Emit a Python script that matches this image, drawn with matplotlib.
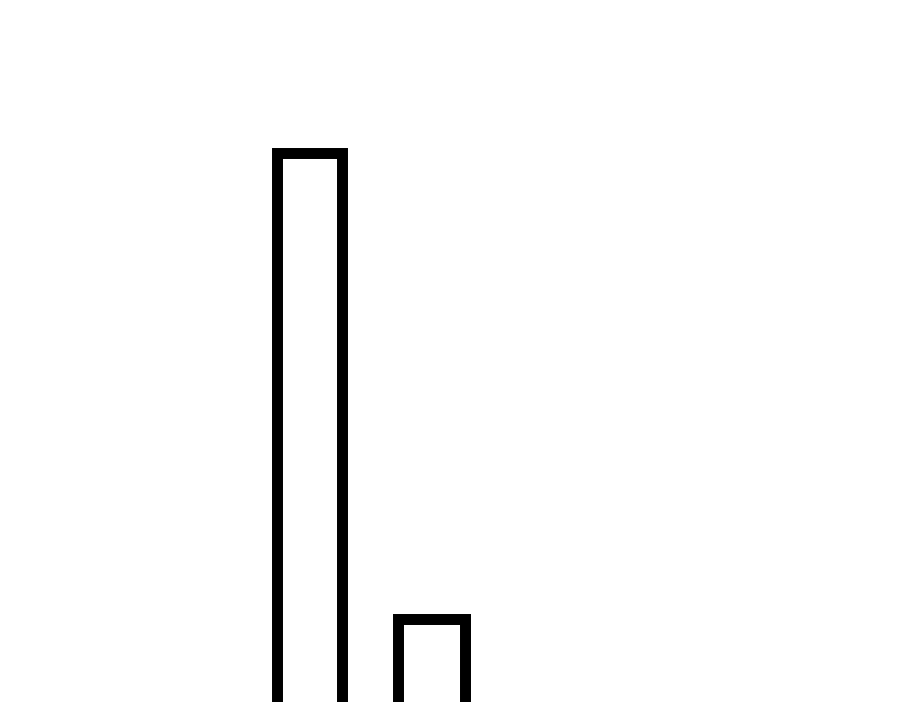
import matplotlib
matplotlib.use('Agg')
import matplotlib.pyplot as plt

categories = ['A', 'B']
values = [8, 2]
widths = [0.525, 0.557]

def main():
    fig = plt.figure(figsize=(9, 7.02), dpi=100)
    ax = fig.add_axes([0, 0, 1, 1])
    bars = ax.bar(range(len(categories)), values, width=widths,
                  facecolor='white', edgecolor='black', linewidth=7.9)
    for b in bars:
        b.set_joinstyle('miter')
    ax.set_xlim(-2.537, 4.84)
    ax.set_ylim(0.937, 9.976)
    ax.axis('off')
    fig.savefig('out.png', dpi=100, facecolor='white')

if __name__ == '__main__':
    main()
